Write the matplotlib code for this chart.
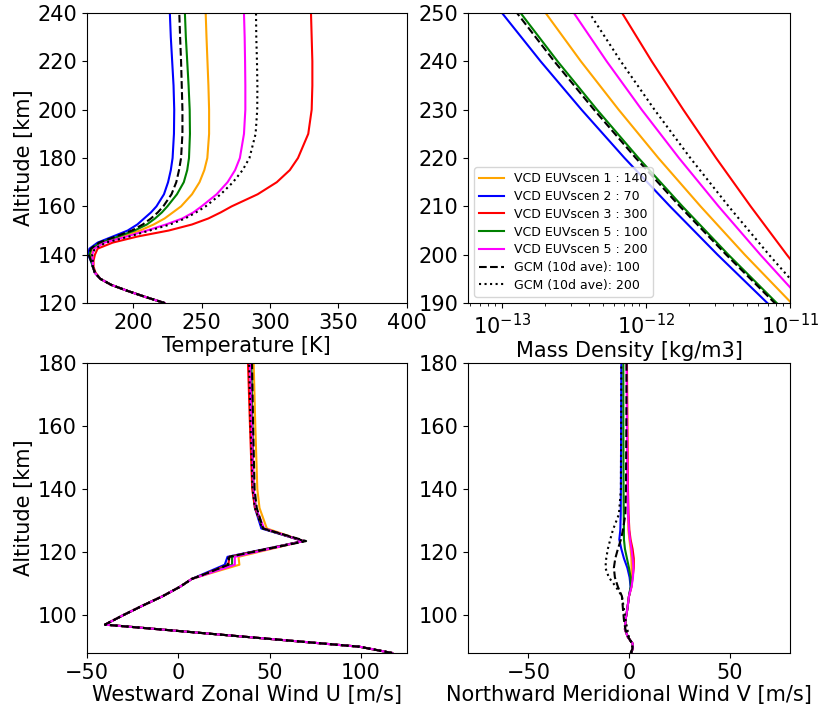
import numpy as np
import matplotlib
matplotlib.use("Agg")
import matplotlib.pyplot as plt

# ---- run labels and line styles (legend order)
labels = ["VCD EUVscen 1 : 140", "VCD EUVscen 2 : 70", "VCD EUVscen 3 : 300",
          "VCD EUVscen 5 : 100", "VCD EUVscen 5 : 200",
          "GCM (10d ave): 100", "GCM (10d ave): 200"]
styles = [dict(color="orange"), dict(color="blue"), dict(color="red"),
          dict(color="green"), dict(color="magenta"),
          dict(color="k", ls="--"), dict(color="k", ls=":")]

# ---- temperature [K]
alt_T = [120, 122.5, 125, 127.5, 130, 132.5, 135, 137.5, 140, 142.5, 145, 147.5,
         150, 152.5, 155, 157.5, 160, 165, 170, 175, 180, 190, 200, 210, 220, 230, 240]
T_scen1 = [223, 209, 196, 184, 176, 172, 170.5, 170, 169, 170.5, 178, 192,
           205, 215, 223, 229, 235, 243, 248.5, 252, 254.2, 255.5, 255.5, 255, 254.3, 253.6, 253]
T_scen2 = [223, 209, 196, 184, 176, 172, 170.5, 169, 167, 168, 174, 185,
           196, 203, 208, 213, 217, 222.5, 225.5, 227.5, 228.8, 229.8, 230, 229.5, 228.5, 227.5, 226.8]
T_scen3 = [223, 209, 196, 184, 176, 172.5, 171, 171, 172, 174, 185, 203,
           226, 243, 255, 264, 272, 291, 305, 314.5, 320.5, 328, 330.5, 331, 331, 330.5, 330]
T_scen5a = [223, 209, 196, 184, 176, 172, 170.5, 169.5, 168, 169.5, 176, 189,
            201, 210, 216, 221, 225, 232, 237, 239.5, 240.8, 241.5, 241.3, 240.5, 239.5, 238.5, 237.8]
T_scen5b = [223, 209, 196, 184, 176, 172, 170.5, 170.5, 170, 171.5, 179, 195,
            210, 224, 236, 244, 250, 261, 269, 274.5, 278, 281, 282, 282, 281.8, 281.5, 281]
T_gcm100 = [223, 209, 196, 184, 176, 172, 170.5, 169, 167.5, 169, 175, 187,
            199, 207, 213, 218, 222, 228, 231.5, 233.5, 235, 236, 236, 235.5, 235, 234.3, 233.7]
T_gcm200 = [223, 209, 196, 184, 176, 172, 170.5, 170.5, 170, 172, 180, 197,
            212, 227, 238, 246, 253, 264, 273, 280, 285, 289.5, 290.7, 290.8, 290.5, 290, 289.8]

# ---- mass density, log10 [kg/m3]
alt_rho = [185, 190, 200, 210, 220, 230, 240, 250, 255]
lrho_scen1 = [-10.82, -10.99, -11.314, -11.621, -11.914, -12.190, -12.452, -12.697, -12.82]
lrho_scen2 = [-10.98, -11.157, -11.503, -11.833, -12.149, -12.448, -12.732, -13.0, -13.13]
lrho_scen3 = [-10.62, -10.76, -11.022, -11.273, -11.513, -11.741, -11.960, -12.166, -12.28]
lrho_scen5a = [-10.92, -11.092, -11.428, -11.747, -12.052, -12.340, -12.614, -12.871, -13.00]
lrho_scen5b = [-10.74, -10.90, -11.206, -11.496, -11.771, -12.030, -12.273, -12.501, -12.62]
lrho_gcm100 = [-10.93, -11.106, -11.443, -11.765, -12.071, -12.361, -12.637, -12.896, -13.03]
lrho_gcm200 = [-10.70, -10.85, -11.146, -11.426, -11.692, -11.941, -12.175, -12.393, -12.51]

# ---- westward zonal wind U [m/s]
alt_U = [88, 89, 90, 97, 100, 103, 106, 109, 111.5, 113, 116, 118.5, 123.5, 127.5,
         134, 140, 160, 180]
U_scen1 = [117, 108, 99, -40, -30, -19.5, -8.5, 1, 7.5, 16, 33.5, 33, 68.5, 48.5, 44.5, 43.3, 42.2, 41.3]
U_scen2 = [117, 108, 99, -40, -30, -19.5, -8.5, 1, 7.5, 13.5, 25.5, 27, 68.5, 45.5, 42, 41, 40.5, 39.8]
U_scen3 = [117, 108, 99, -40, -30, -19.5, -8.5, 1, 7.5, 14.5, 27.5, 28, 68.5, 46.5, 42, 40.5, 39.3, 38.2]
U_scen5a = [117, 108, 99, -40, -30, -19.5, -8.5, 1, 7.5, 15, 29.5, 29.5, 68.5, 46.5, 42.5, 41.2, 40.6, 40]
U_scen5b = [117, 108, 99, -40, -30, -19.5, -8.5, 1, 7.5, 15.5, 31, 31, 68.5, 47, 42.5, 41.3, 40.3, 39.3]
U_gcm100 = [117, 108, 99, -40, -30, -19.5, -8.5, 1, 7.5, 14.5, 27.5, 28, 70, 46.5, 43, 41.8, 41, 40.4]
U_gcm200 = [117, 108, 99, -40, -30, -19.5, -8.5, 1, 7.5, 14.5, 27, 27.5, 69, 46, 42, 40.7, 39.6, 38.8]

# ---- northward meridional wind V [m/s]
alt_V = [88, 89.5, 91, 93, 95.5, 98.5, 102, 106, 109, 112, 115, 118, 121, 124, 127,
         132, 140, 160, 180]
V_scen1 = [1.0, 2.0, 1.8, -0.5, -2.0, -1.7, -0.8, 0.0, 1.2, 1.3, 1.3, 1.2, 0.8, 0.2, -0.3, -0.5, -0.7, -0.9, -1.0]
V_scen2 = [1.0, 2.0, 1.8, -0.5, -2.0, -1.7, -0.8, 0.0, 0.8, 0.3, -0.8, -2.5, -3.8, -4.8, -4.3, -4.1, -4.0, -3.9, -3.8]
V_scen3 = [1.0, 2.0, 1.8, -0.5, -2.0, -1.7, -0.8, 0.0, 1.2, 1.8, 2.4, 2.4, 1.8, 0.8, 0.2, -0.2, -0.5, -0.8, -1.0]
V_scen5a = [1.0, 2.0, 1.8, -0.5, -2.0, -1.7, -0.8, 0.0, 0.9, 0.8, 0.0, -1.0, -2.0, -2.5, -2.5, -2.6, -2.7, -2.8, -2.8]
V_scen5b = [1.0, 2.0, 1.8, -0.5, -2.0, -1.7, -0.8, 0.0, 1.3, 2.0, 2.2, 1.8, 1.2, 0.5, 0.0, -0.4, -0.7, -1.0, -1.2]
V_gcm100 = [0.8, 1.8, 1.5, -0.3, -1.8, -2.5, -3.0, -3.5, -5.5, -7.0, -7.5, -6.8, -5.5, -4.0, -3.0, -1.8, -1.5, -1.3, -1.2]
V_gcm200 = [1.2, 1.8, 1.5, 0.0, -0.8, -1.7, -2.5, -3.5, -6.5, -10.0, -11.7, -11.3, -10.5, -9.3, -8.0, -5.0, -4.0, -3.9, -3.8]

T_all = [T_scen1, T_scen2, T_scen3, T_scen5a, T_scen5b, T_gcm100, T_gcm200]
rho_all = [lrho_scen1, lrho_scen2, lrho_scen3, lrho_scen5a, lrho_scen5b, lrho_gcm100, lrho_gcm200]
U_all = [U_scen1, U_scen2, U_scen3, U_scen5a, U_scen5b, U_gcm100, U_gcm200]
V_all = [V_scen1, V_scen2, V_scen3, V_scen5a, V_scen5b, V_gcm100, V_gcm200]

plt.rcParams['font.size'] = 15

fig = plt.figure(figsize=(8.21, 7.11), dpi=100)
ax1 = fig.add_axes([0.1056, 0.5738, 0.3898, 0.4079])
ax2 = fig.add_axes([0.5700, 0.5738, 0.3922, 0.4079])
ax3 = fig.add_axes([0.1056, 0.0816, 0.3898, 0.4079])
ax4 = fig.add_axes([0.5700, 0.0816, 0.3922, 0.4079])

for lab, st, T in zip(labels, styles, T_all):
    ax1.plot(T, alt_T, label=lab, **st)
ax1.set_xlim(166, 400)
ax1.set_ylim(120, 240)
ax1.set_xlabel("Temperature [K]", labelpad=2)
ax1.set_ylabel("Altitude [km]", labelpad=2)

for lab, st, lr in zip(labels, styles, rho_all):
    ax2.plot(10.0 ** np.array(lr), alt_rho, label=lab, **st)
ax2.set_xscale("log")
ax2.set_xlim(5.8e-14, 1e-11)
ax2.set_ylim(190, 250)
ax2.set_xlabel("Mass Density [kg/m3]", labelpad=2)
ax2.legend(loc="lower left", fontsize=9, labelspacing=0.38)

for lab, st, U in zip(labels, styles, U_all):
    ax3.plot(U, alt_U, label=lab, **st)
ax3.set_xlim(-49.5, 125)
ax3.set_ylim(88, 180)
ax3.set_xticks([-50, 0, 50, 100])
ax3.set_xlabel("Westward Zonal Wind U [m/s]", labelpad=2)
ax3.set_ylabel("Altitude [km]", labelpad=2)

for lab, st, V in zip(labels, styles, V_all):
    ax4.plot(V, alt_V, label=lab, **st)
ax4.set_xlim(-80, 80)
ax4.set_ylim(88, 180)
ax4.set_xticks([-50, 0, 50])
ax4.set_xlabel("Northward Meridional Wind V [m/s]", labelpad=2)

fig.savefig("out.png", dpi=100)
